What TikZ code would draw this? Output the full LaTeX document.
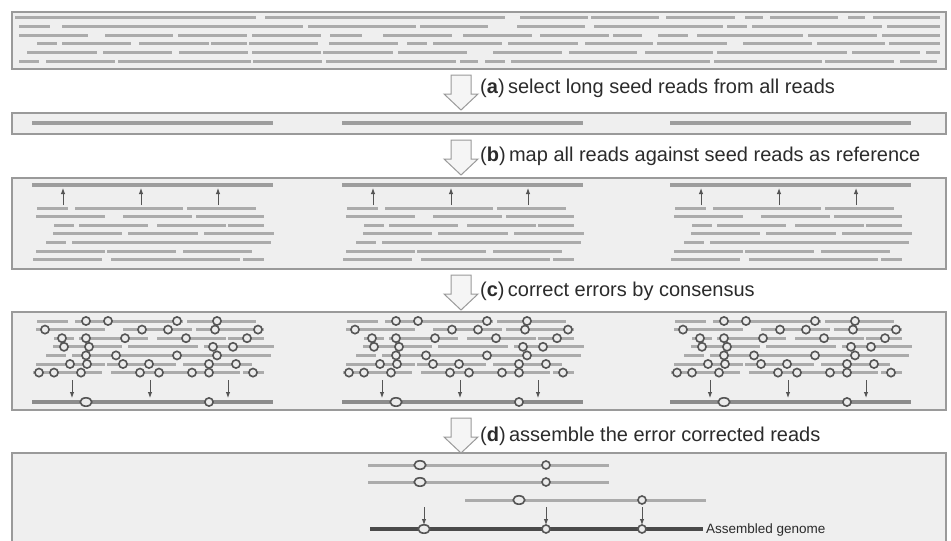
\documentclass[tikz,border=0pt]{standalone}
\usepackage{fontspec}
\setmainfont{Liberation Sans}
\usetikzlibrary{arrows.meta}
\definecolor{readgray}{HTML}{ABABAB}
\definecolor{panelfill}{HTML}{EFEFEF}
\definecolor{paneledge}{HTML}{9A9A9A}
\definecolor{inkgray}{HTML}{555555}
\definecolor{textgray}{HTML}{2B2B2B}
\definecolor{genomegray}{HTML}{4A4A4A}

\begin{document}
\begin{tikzpicture}[x=1pt,y=-1pt,
  panel/.style={draw=paneledge,fill=panelfill,line width=1.4pt},
  read/.style={draw=readgray,line width=3pt},
  seed/.style={draw=readgray!92!black,line width=3.6pt},
  consensus/.style={draw=black!45,line width=4.2pt},
  genome/.style={draw=genomegray,line width=4pt},
  err/.style={draw=inkgray,fill=white!92!black,line width=1.6pt},
  map/.style={-{Latex[length=6pt,width=4.5pt]},draw=inkgray,line width=1pt},
  stepflow/.style={draw=paneledge,fill=black!4,line width=1pt,line join=miter},
  steplabel/.style={anchor=west,inner sep=0pt,text=textgray,font=\fontsize{20}{23}\selectfont},
  genomelabel/.style={anchor=west,inner sep=0pt,text=textgray,font=\fontsize{13.5}{16}\selectfont}
]
  \useasboundingbox (0,0) rectangle (951,541);

  % panels
  \draw[panel] (12,12) rectangle (946,69);
  \draw[panel] (12,113) rectangle (946,134);
  \draw[panel] (12,178) rectangle (946,269);
  \draw[panel] (12,312) rectangle (946,410);
  \fill[panelfill] (12,453) rectangle (946,541);
  \draw[paneledge,line width=1.4pt] (12,541) -- (12,453) -- (946,453) -- (946,541);

  % step arrows and labels
  \foreach \ty in {75,140,275,418}
    \draw[stepflow] (451,\ty) -- (451,\ty+19) -- (444,\ty+19) -- (461,\ty+35)
      -- (478,\ty+19) -- (471,\ty+19) -- (471,\ty) -- cycle;
  \node[steplabel] (la) at (480,88) {(\textbf{a})\,select long seed reads from all reads};
  \node[steplabel] (lb) at (480,156) {(\textbf{b})\,map all reads against seed reads as reference};
  \node[steplabel] (lc) at (480,291) {(\textbf{c})\,correct errors by consensus};
  \node[steplabel] (ld) at (480,436) {(\textbf{d})\,assemble the error corrected reads};

  % (a) all reads
  \foreach \ya/\xa/\xb in {
      17/15/256, 17/265/505, 17/520/588, 17/591/659, 17/666/735, 17/745/763, 17/770/838, 17/848/865, 17/873/940,
      26/19/50, 26/62/303, 26/308/416, 26/420/488, 26/517/585, 26/594/723, 26/727/747, 26/752/882, 26/887/940,
      35/19/88, 35/105/173, 35/178/247, 35/252/321, 35/330/362, 35/383/452, 35/463/532, 35/540/609, 35/613/642,
      35/658/688, 35/697/803, 35/808/877, 35/882/940,
      43/37/57, 43/62/131, 43/139/209, 43/211/247, 43/249/318, 43/329/398, 43/407/427, 43/433/502, 43/508/578,
      43/585/653, 43/657/727, 43/743/812, 43/817/885, 43/889/940,
      52/27/97, 52/103/172, 52/179/248, 52/252/321, 52/323/393, 52/398/467, 52/493/562, 52/569/637, 52/645/713,
      52/717/847, 52/852/920, 52/926/940,
      61/19/39, 61/46/115, 61/118/251, 61/253/322, 61/326/456, 61/460/478, 61/485/505, 61/511/710, 61/714/822,
      61/825/894, 61/900/937}
    \draw[read] (\xa,\ya) -- (\xb,\ya);

  \foreach \gx in {0,310,638} {
    % (b) seed reads
    \draw[seed] (\gx+32,123) -- (\gx+273,123);
    % mapped reads, then corrected reads
    \draw[seed] (\gx+32,185) -- (\gx+273,185);
    \foreach \yb in {208,321}
      \foreach \row/\xa/\xb in {
          0/37/68, 0/75/183, 0/187/256,
          1/36/105, 1/123/192, 1/196/264,
          2/54/74, 2/79/148, 2/157/226, 2/228/264,
          3/53/122, 3/128/198, 3/204/274,
          4/46/66, 4/72/271,
          5/36/105, 5/107/176, 5/183/252,
          6/33/102, 6/111/240, 6/243/264}
        \draw[read] (\gx+\xa,\yb+8.6*\row) -- (\gx+\xb,\yb+8.6*\row);
    \foreach \mx in {63,141,218}
      \draw[map] (\gx+\mx,205) -- (\gx+\mx,188);
    % (c) errors and consensus
    \foreach \row/\mx in {
        0/86, 0/108, 0/177, 0/217,
        1/45, 1/142, 1/168, 1/215, 1/258,
        2/62, 2/86, 2/125, 2/186, 2/247,
        3/64, 3/89, 3/213, 3/233,
        4/86, 4/116, 4/177, 4/217,
        5/70, 5/87, 5/123, 5/149, 5/209, 5/236,
        6/39, 6/54, 6/81, 6/140, 6/159, 6/192, 6/209, 6/253}
      \draw[err] (\gx+\mx,321+8.6*\row) circle[radius=4.1];
    \foreach \mx in {72,150,228}
      \draw[map] (\gx+\mx,380) -- (\gx+\mx,398);
    \draw[consensus] (\gx+32,402) -- (\gx+273,402);
    \draw[err] (\gx+86,402) ellipse[x radius=5.8,y radius=4.2];
    \draw[err] (\gx+209,402) circle[radius=4.1];
  }

  % (d) assembly
  \draw[read] (368,465) -- (609,465);
  \draw[read] (368,482) -- (609,482);
  \draw[read] (465,500) -- (706,500);
  \draw[err] (420,465) ellipse[x radius=5.8,y radius=4.2];
  \draw[err] (546,465) circle[radius=4];
  \draw[err] (420,482) ellipse[x radius=5.8,y radius=4.2];
  \draw[err] (546,482) circle[radius=4];
  \draw[err] (519,500) ellipse[x radius=5.8,y radius=4.2];
  \draw[err] (642,500) circle[radius=4];
  \foreach \mx in {424,546,642}
    \draw[map] (\mx,507) -- (\mx,525);
  \draw[genome] (370,529) -- (703,529);
  \draw[err] (424,529) ellipse[x radius=5.8,y radius=4.2];
  \draw[err] (546,529) circle[radius=4];
  \draw[err] (642,529) circle[radius=4];
  \node[genomelabel] (lg) at (706,530) {Assembled genome};
\end{tikzpicture}
\end{document}
